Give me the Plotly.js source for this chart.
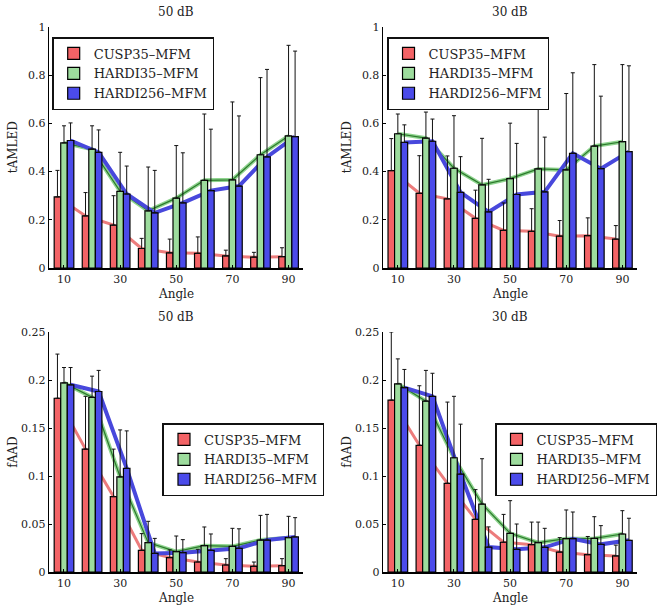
<!DOCTYPE html>
<html>
<head>
<meta charset="utf-8">
<script src="https://cdn.plot.ly/plotly-3.0.1.min.js"></script>
<style>html,body{margin:0;padding:0;background:#fff;}#chart{width:657px;height:609px;}</style>
</head>
<body>
<div id="chart"></div>
<script>
// ---------- data ----------
const angles = [10, 20, 30, 40, 50, 60, 70, 80, 90];
const tickAngles = [10, 30, 50, 70, 90];
const seriesNames = ["CUSP35\u2013MFM", "HARDI35\u2013MFM", "HARDI256\u2013MFM"];
const panelTitles = ["50 dB", "30 dB", "50 dB", "30 dB"];
const yTitles = ["tAMLED", "tAMLED", "fAAD", "fAAD"];
const xTitle = "Angle";

// top-left: tAMLED, 50 dB
const tl_cusp      = [0.295, 0.216, 0.178, 0.081, 0.063, 0.061, 0.050, 0.045, 0.047];
const tl_cusp_err  = [0.110, 0.097, 0.122, 0.042, 0.057, 0.068, 0.024, 0.020, 0.037];
const tl_h35       = [0.519, 0.493, 0.318, 0.237, 0.290, 0.364, 0.366, 0.470, 0.548];
const tl_h35_err   = [0.071, 0.097, 0.162, 0.182, 0.218, 0.275, 0.323, 0.320, 0.376];
const tl_h256      = [0.529, 0.480, 0.307, 0.229, 0.270, 0.321, 0.340, 0.461, 0.545];
const tl_h256_err  = [0.073, 0.093, 0.116, 0.176, 0.208, 0.255, 0.291, 0.363, 0.355];

// top-right: tAMLED, 30 dB
const tr_cusp      = [0.404, 0.310, 0.287, 0.206, 0.156, 0.152, 0.132, 0.134, 0.120];
const tr_cusp_err  = [0.133, 0.156, 0.178, 0.117, 0.114, 0.094, 0.065, 0.074, 0.056];
const tr_h35       = [0.557, 0.539, 0.414, 0.345, 0.371, 0.411, 0.407, 0.506, 0.524];
const tr_h35_err   = [0.082, 0.108, 0.218, 0.193, 0.230, 0.261, 0.317, 0.338, 0.320];
const tr_h256      = [0.521, 0.526, 0.314, 0.233, 0.305, 0.316, 0.476, 0.412, 0.483];
const tr_h256_err  = [0.073, 0.092, 0.148, 0.135, 0.212, 0.227, 0.334, 0.301, 0.356];

// bottom-left: fAAD, 50 dB
const bl_cusp      = [0.181, 0.128, 0.0785, 0.0226, 0.015, 0.0104, 0.0073, 0.0059, 0.0066];
const bl_cusp_err  = [0.046, 0.055, 0.0495, 0.0174, 0.008, 0.0132, 0.0066, 0.0045, 0.0073];
const bl_h35       = [0.197, 0.182, 0.099, 0.0306, 0.0212, 0.0274, 0.0267, 0.0333, 0.0358];
const bl_h35_err   = [0.016, 0.022, 0.049, 0.0222, 0.0163, 0.0195, 0.0188, 0.0257, 0.0222];
const bl_h256      = [0.195, 0.188, 0.108, 0.0194, 0.0201, 0.0226, 0.0247, 0.0333, 0.0365];
const bl_h256_err  = [0.018, 0.022, 0.039, 0.0156, 0.0136, 0.017, 0.0203, 0.0267, 0.0201];

// bottom-right: fAAD, 30 dB
const br_cusp      = [0.179, 0.132, 0.0924, 0.0549, 0.031, 0.0285, 0.0208, 0.018, 0.0167];
const br_cusp_err  = [0.071, 0.062, 0.0846, 0.0309, 0.029, 0.0235, 0.015, 0.019, 0.0113];
const br_h35       = [0.196, 0.178, 0.119, 0.0708, 0.0403, 0.0306, 0.0347, 0.035, 0.0396];
const br_h35_err   = [0.026, 0.032, 0.064, 0.0472, 0.034, 0.0214, 0.0299, 0.0226, 0.0243];
const br_h256      = [0.192, 0.183, 0.102, 0.026, 0.0236, 0.0257, 0.0347, 0.0288, 0.033];
const br_h256_err  = [0.019, 0.024, 0.052, 0.021, 0.0264, 0.0198, 0.0278, 0.0195, 0.023];

// ---------- styling ----------
const FONT = "DejaVu Serif, Liberation Serif, serif";
const barColors = ["#f36366", "#9ddc9d", "#4b4bea"];
const BARGAP = 0.3;

const panels = [
  {vals: [tl_cusp, tl_h35, tl_h256], errs: [tl_cusp_err, tl_h35_err, tl_h256_err], yrange: [0, 1], ytick: [0, 0.2, 0.4, 0.6, 0.8, 1]},
  {vals: [tr_cusp, tr_h35, tr_h256], errs: [tr_cusp_err, tr_h35_err, tr_h256_err], yrange: [0, 1], ytick: [0, 0.2, 0.4, 0.6, 0.8, 1]},
  {vals: [bl_cusp, bl_h35, bl_h256], errs: [bl_cusp_err, bl_h35_err, bl_h256_err], yrange: [0, 0.25], ytick: [0, 0.05, 0.1, 0.15, 0.2, 0.25]},
  {vals: [br_cusp, br_h35, br_h256], errs: [br_cusp_err, br_h35_err, br_h256_err], yrange: [0, 0.25], ytick: [0, 0.05, 0.1, 0.15, 0.2, 0.25]}
];

const W = 657, H = 609;
const xDomains = [[50 / W, 308 / W], [389 / W, 647 / W], [50 / W, 308 / W], [389 / W, 647 / W]];
const yDomains = [[1 - 268 / H, 1 - 27 / H], [1 - 268 / H, 1 - 27 / H], [1 - 572 / H, 1 - 332 / H], [1 - 572 / H, 1 - 332 / H]];
const legendPos = [[53 / W, 1 - 37 / H], [393 / W, 1 - 37 / H], [165 / W, 1 - 423 / H], [503 / W, 1 - 423 / H]];
const xRange = [4.74, 95.26];

const traces = [];
const layout = {
  width: W, height: H,
  margin: {l: 0, r: 0, t: 0, b: 0},
  paper_bgcolor: "#fff", plot_bgcolor: "rgba(0,0,0,0)",
  barmode: "group", bargap: BARGAP, bargroupgap: 0,
  font: {family: FONT, size: 12, color: "#222"},
  showlegend: true,
  annotations: []
};

const step = angles[1] - angles[0];
const barW = step * (1 - BARGAP) / 3;

panels.forEach((p, i) => {
  const n = i + 1;
  const bx = "x" + n, by = "y" + n;
  const ox = "x" + (n + 4), oy = "y" + (n + 4);
  const legName = i === 0 ? "legend" : "legend" + n;

  // connecting lines (base axes, drawn beneath the bars)
  p.vals.forEach((v, s) => {
    const xs = angles.map(a => a + (s - 1) * barW);
    if (s === 1) {
      traces.push({type: "scatter", mode: "lines", x: xs, y: v, xaxis: bx, yaxis: by,
        line: {color: "#8fd48f", width: 4}, showlegend: false, hoverinfo: "skip"});
      traces.push({type: "scatter", mode: "lines", x: xs, y: v, xaxis: bx, yaxis: by,
        line: {color: "#2c7a2c", width: 1.2}, showlegend: false, hoverinfo: "skip"});
    } else if (s === 0) {
      traces.push({type: "scatter", mode: "lines", x: xs, y: v, xaxis: bx, yaxis: by,
        line: {color: "rgba(230,80,80,0.75)", width: 3}, showlegend: false, hoverinfo: "skip"});
    } else {
      traces.push({type: "scatter", mode: "lines", x: xs, y: v, xaxis: bx, yaxis: by,
        line: {color: "#4848dc", width: 4}, showlegend: false, hoverinfo: "skip"});
    }
  });

  // bars (overlay axes, drawn on top)
  p.vals.forEach((v, s) => {
    traces.push({
      type: "bar", x: angles, y: v, name: seriesNames[s], xaxis: ox, yaxis: oy,
      legend: legName,
      marker: {color: barColors[s], line: {color: "#000", width: 1.2}},
      error_y: {type: "data", symmetric: false, array: p.errs[s], arrayminus: angles.map(() => 0),
        color: "#111", thickness: 1, width: 2}
    });
  });

  const kb = "xaxis" + n, kyb = "yaxis" + n;
  layout[kb] = {domain: xDomains[i], anchor: by, range: xRange, tickvals: tickAngles,
    ticktext: tickAngles.map(String), showline: true, linecolor: "#000", linewidth: 1.5,
    ticks: "inside", ticklen: 3, tickcolor: "#000", showgrid: false, zeroline: false,
    tickfont: {family: FONT, size: 11, color: "#222"}, automargin: false, fixedrange: true};
  layout[kyb] = {domain: yDomains[i], anchor: bx, range: p.yrange, tickvals: p.ytick,
    ticktext: p.ytick.map(String), showline: true, linecolor: "#000", linewidth: 1.5,
    ticks: "inside", ticklen: 3, tickcolor: "#000", showgrid: false, zeroline: false,
    tickfont: {family: FONT, size: 11, color: "#222"}, automargin: false, fixedrange: true};
  layout["xaxis" + (n + 4)] = {overlaying: bx, anchor: oy, range: xRange, visible: false, fixedrange: true};
  layout["yaxis" + (n + 4)] = {overlaying: by, anchor: ox, range: p.yrange, visible: false, fixedrange: true};

  layout[legName] = {x: legendPos[i][0], y: legendPos[i][1], xanchor: "left", yanchor: "top",
    bgcolor: "#fff", bordercolor: "#111", borderwidth: 1.5,
    font: {family: FONT, size: 13, color: "#222"}, tracegroupgap: 0, itemwidth: 30};

  const xc = (xDomains[i][0] + xDomains[i][1]) / 2;
  const yc = (yDomains[i][0] + yDomains[i][1]) / 2;
  layout.annotations.push({text: panelTitles[i], xref: "paper", yref: "paper", x: xc,
    y: yDomains[i][1] + 15 / H, xanchor: "center", yanchor: "middle", showarrow: false,
    font: {family: FONT, size: 12, color: "#222"}});
  layout.annotations.push({text: xTitle, xref: "paper", yref: "paper", x: xc,
    y: yDomains[i][0] - 26 / H, xanchor: "center", yanchor: "middle", showarrow: false,
    font: {family: FONT, size: 12, color: "#222"}});
  layout.annotations.push({text: yTitles[i], xref: "paper", yref: "paper",
    x: xDomains[i][0] - 37 / W, y: yc, xanchor: "center", yanchor: "middle", textangle: -90,
    showarrow: false, font: {family: FONT, size: 12, color: "#222"}});
});

Plotly.newPlot("chart", traces, layout, {displayModeBar: false, staticPlot: true});
</script>
</body>
</html>
